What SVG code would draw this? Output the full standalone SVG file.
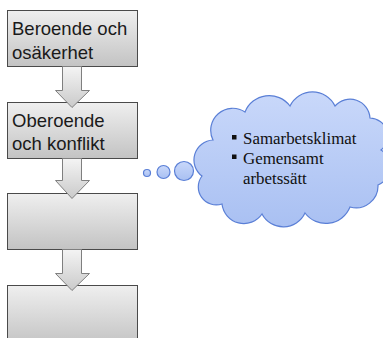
<svg xmlns="http://www.w3.org/2000/svg" width="383" height="338" viewBox="0 0 383 338">
<defs>
<linearGradient id="boxg" x1="0" y1="0" x2="0" y2="1">
<stop offset="0" stop-color="#efefef"/>
<stop offset="1" stop-color="#c3c3c3"/>
</linearGradient>
<linearGradient id="arrg" x1="0" y1="0" x2="0" y2="1">
<stop offset="0" stop-color="#f4f4f4"/>
<stop offset="1" stop-color="#cacaca"/>
</linearGradient>
<linearGradient id="cloudg" x1="0" y1="0" x2="0" y2="1">
<stop offset="0" stop-color="#c9d8fa"/>
<stop offset="1" stop-color="#a9c0f2"/>
</linearGradient>
<style>
.box{fill:url(#boxg);stroke:#4a4a4a;stroke-width:1}
.arr{fill:url(#arrg);stroke:#7f7f7f;stroke-width:1;stroke-linejoin:miter}
.bt{font-family:"Liberation Sans",Arial,sans-serif;font-size:18.5px;fill:#1a1a1a}
.cloud{fill:url(#cloudg);stroke:#5a7fd6;stroke-width:1.2}
.ct{font-family:"Liberation Serif","Times New Roman",serif;font-size:16.9px;fill:#111}
</style>
</defs>
<g id="box1">
<rect class="box" x="7.5" y="10.5" width="130" height="56"/>
<text class="bt" x="12" y="35">Beroende och</text>
<text class="bt" x="12" y="59">osäkerhet</text>
</g>
<g id="box2">
<rect class="box" x="7.5" y="102.5" width="130" height="56"/>
<text class="bt" x="12" y="127">Oberoende</text>
<text class="bt" x="12" y="150">och konflikt</text>
</g>
<g id="box3">
<rect class="box" x="7.5" y="193.5" width="130" height="56"/>
</g>
<g id="box4">
<rect class="box" x="7.5" y="285.5" width="130" height="60"/>
</g>
<g id="connectors">
<path class="arr" d="M62.5,66.5 H81.5 V90.5 H89.5 L72,107.5 L55.5,90.5 H62.5 Z"/>
<path class="arr" d="M62.5,158.5 H81.5 V180.5 H89.5 L72,198.5 L55.5,180.5 H62.5 Z"/>
<path class="arr" d="M62.5,249.5 H81.5 V273.5 H89.5 L72,290.5 L55.5,273.5 H62.5 Z"/>
</g>
<g id="cloud">
<circle class="cloud" cx="147" cy="173" r="3.5"/>
<circle class="cloud" cx="163.5" cy="172" r="6.5"/>
<circle class="cloud" cx="184" cy="171" r="9.5"/>
<path class="cloud" d="M213,140 A22 22 0 0 1 245,112 A26 26 0 0 1 290,106 A25 25 0 0 1 335,106 A20 20 0 0 1 370,118 A18 18 0 0 1 381,150 A20 20 0 0 1 378,185 A22 22 0 0 1 350,207 A26 26 0 0 1 305,213 A24 24 0 0 1 262,214 A22 22 0 0 1 222,204 A18 18 0 0 1 202,176 A20 20 0 0 1 213,140 Z"/>
<rect x="232" y="135" width="4.5" height="4.5" fill="#111"/>
<rect x="232" y="154.5" width="4.5" height="4.5" fill="#111"/>
<text class="ct" x="243" y="144">Samarbetsklimat</text>
<text class="ct" x="243" y="163.5">Gemensamt</text>
<text class="ct" x="243" y="183.5">arbetssätt</text>
</g>
</svg>
